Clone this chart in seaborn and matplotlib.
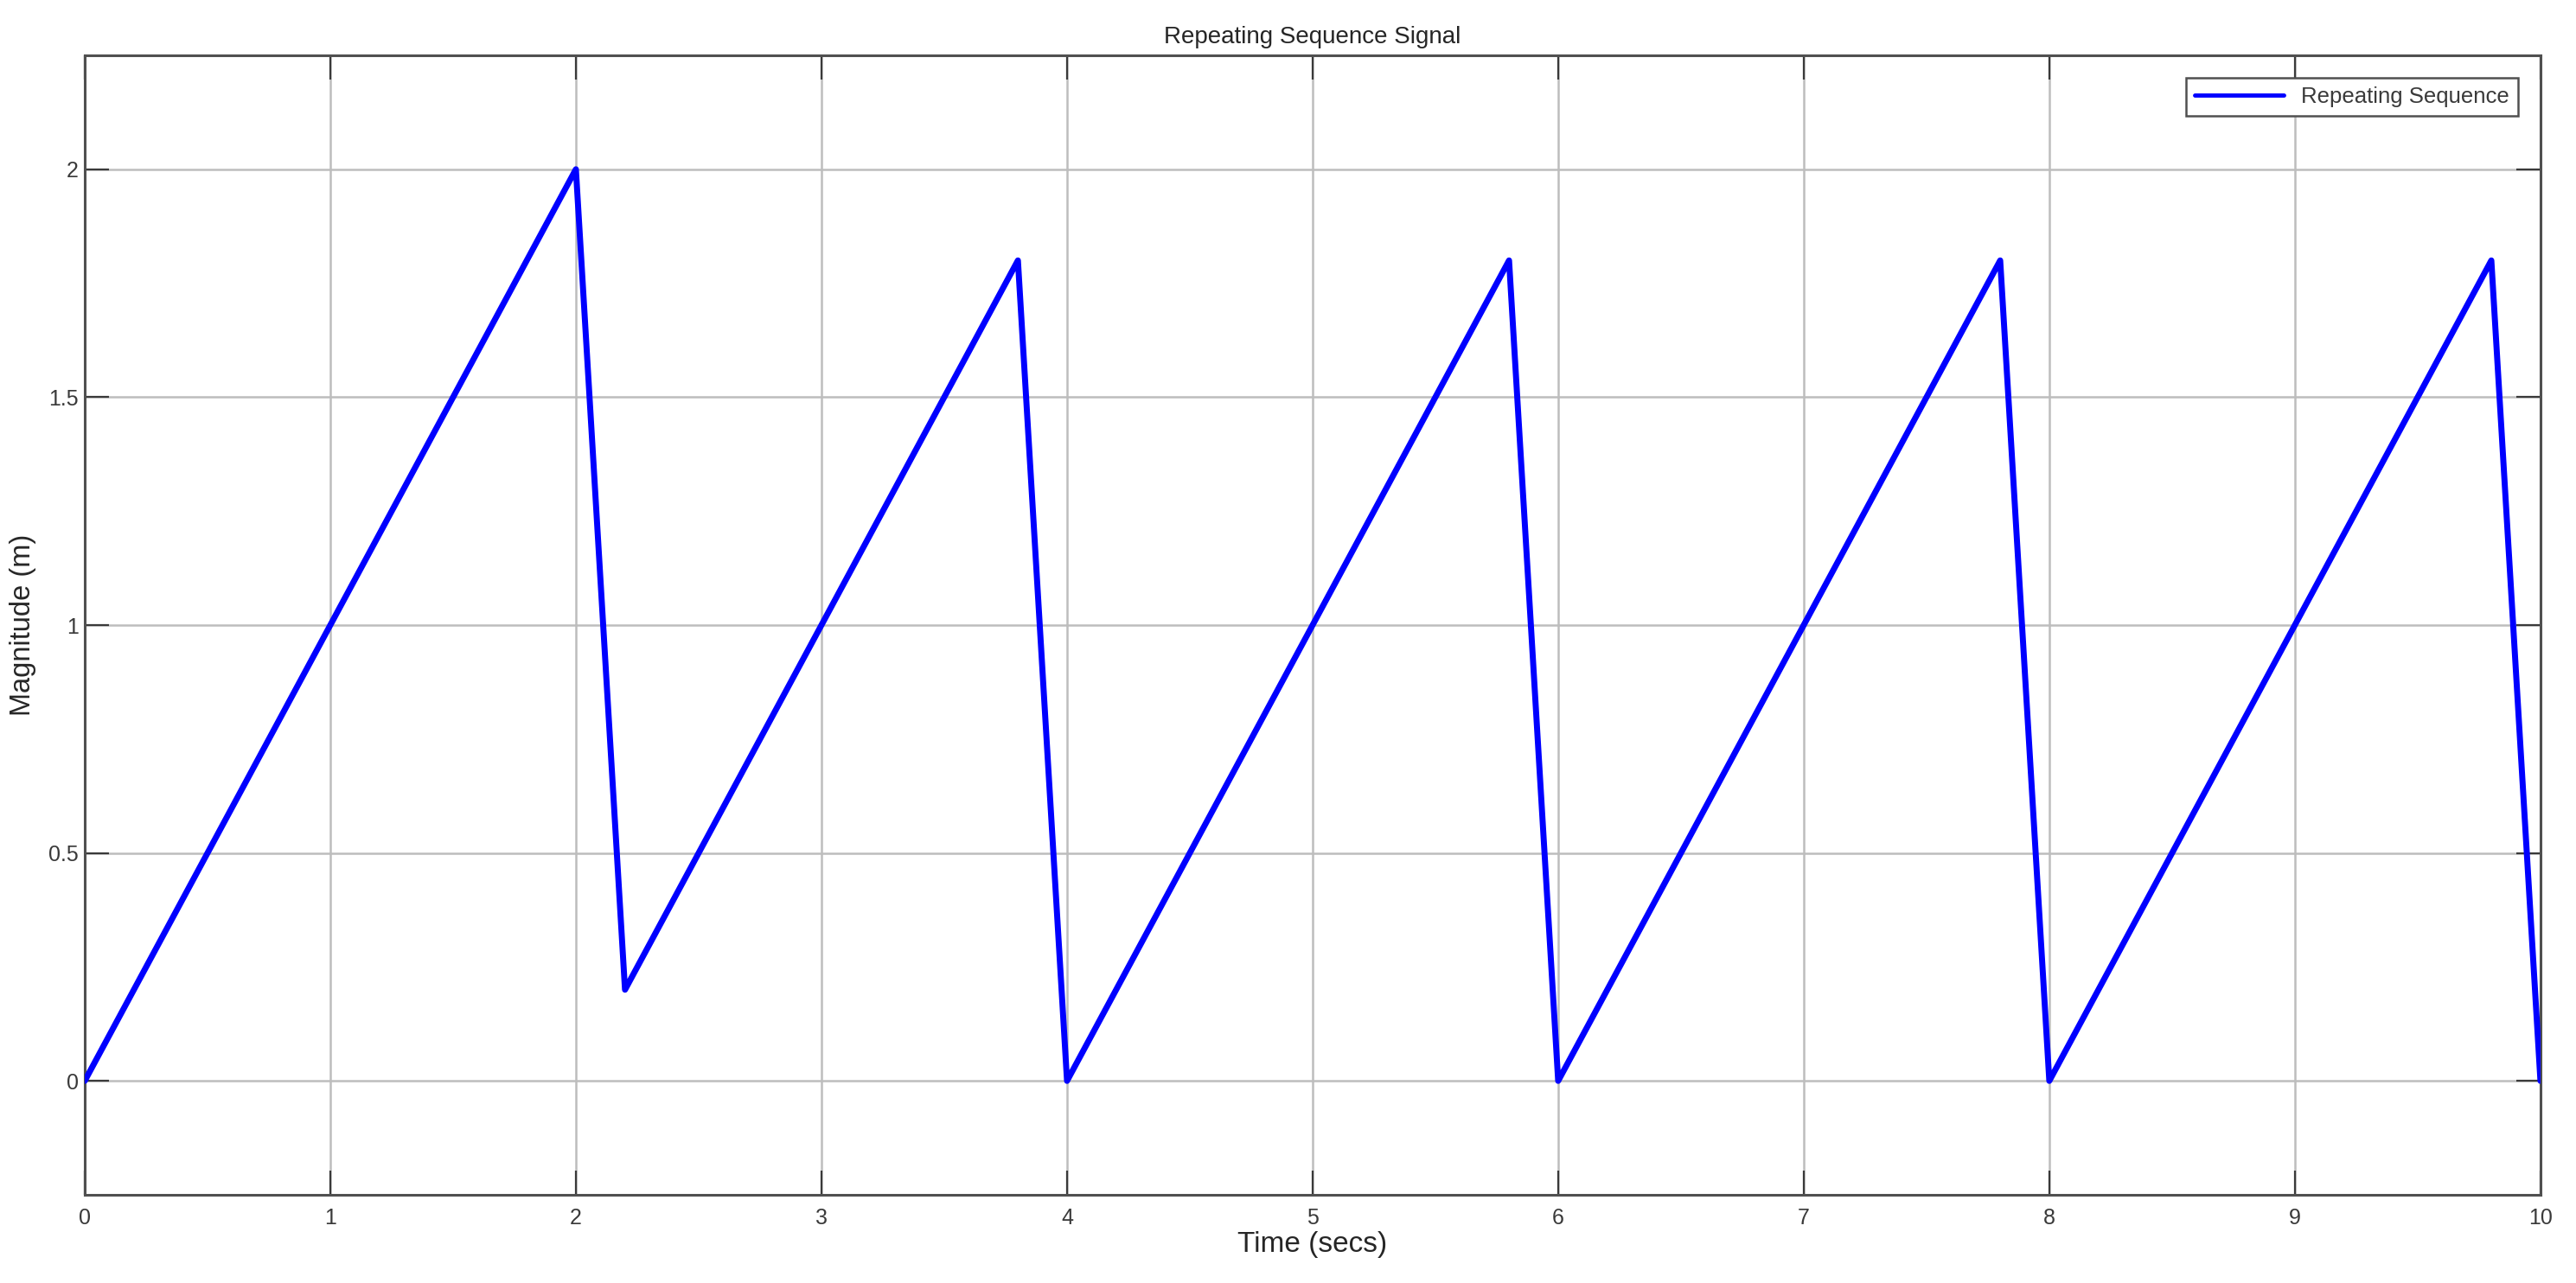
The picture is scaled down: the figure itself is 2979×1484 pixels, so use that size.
import matplotlib
matplotlib.use("Agg")
from matplotlib import pyplot as plt
import seaborn as sns
import pandas as pd

# signal breakpoints
time_s = [0, 2, 2.2, 3.8, 4, 5.8, 6, 7.8, 8, 9.8, 10]
magnitude = [0, 2, 0.2, 1.8, 0, 1.8, 0, 1.8, 0, 1.8, 0]
x_ticks = [0, 1, 2, 3, 4, 5, 6, 7, 8, 9, 10]
y_ticks = [0, 0.5, 1, 1.5, 2]
y_tick_labels = ['0', '0.5', '1', '1.5', '2']

sns.set_style("ticks")
plt.rcParams['font.family'] = ['Liberation Sans', 'DejaVu Sans']

df = pd.DataFrame({'Time (secs)': time_s, 'Magnitude (m)': magnitude})

fig = plt.figure(figsize=(29.79, 14.84), dpi=100)
ax = fig.add_axes([0.0329, 0.0687, 0.9533, 0.8882])

sns.lineplot(data=df, x='Time (secs)', y='Magnitude (m)', ax=ax,
             color='#0000ff', linewidth=5, label='Repeating Sequence',
             zorder=3)

ax.set_xlim(0, 10)
ax.set_ylim(-0.25, 2.25)
ax.set_xticks(x_ticks)
ax.set_yticks(y_ticks)
ax.set_yticklabels(y_tick_labels)
ax.grid(True, color='#bdbdbd', linewidth=1.8)
ax.set_axisbelow(True)

ax.tick_params(axis='both', direction='in', length=20, width=1.6,
               colors='#3a3a3a', labelcolor='#3a3a3a', labelsize=18,
               top=True, right=True)
ax.tick_params(axis='x', pad=11)
ax.tick_params(axis='y', pad=5)
for sp in ax.spines.values():
    sp.set_visible(True)
    sp.set_color('#505050')
    sp.set_linewidth(2.2)

ax.set_xlabel('Time (secs)', fontsize=24, color='#262626', labelpad=2)
ax.set_ylabel('Magnitude (m)', fontsize=23.5, color='#262626', labelpad=10)
ax.set_title('Repeating Sequence Signal', fontsize=20, color='#262626', pad=10)

leg = ax.legend(loc='upper right', fontsize=18.5, fancybox=False,
                edgecolor='#505050', framealpha=1, borderaxespad=1.0,
                handlelength=4.0, borderpad=0.4)
leg.get_frame().set_linewidth(1.8)
for t in leg.get_texts():
    t.set_color('#3a3a3a')
for h in leg.get_lines():
    h.set_linewidth(3.5)

fig.savefig('out.png', dpi=100)
